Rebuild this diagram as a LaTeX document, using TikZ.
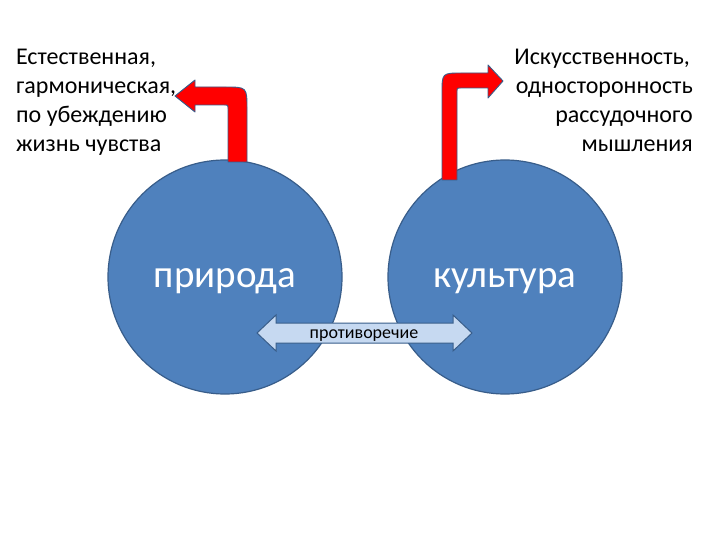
\documentclass[tikz,border=0pt]{standalone}
\usepackage{fontspec}
\setmainfont{Carlito}
\definecolor{circfill}{HTML}{4F81BD}
\definecolor{circline}{HTML}{385D8A}
\definecolor{dafill}{HTML}{C6D9F1}
\tikzset{
  circ/.style={circle, fill=circfill, draw=circline, line width=1.2pt, minimum size=234pt, inner sep=0pt},
  bigtext/.style={font=\fontsize{39}{44}\selectfont, text=white, anchor=base, inner sep=0pt},
  lefttxt/.style={font=\fontsize{24}{29}\selectfont, text=black, inner sep=0pt, anchor=base west},
  righttxt/.style={font=\fontsize{24}{29}\selectfont, text=black, inner sep=0pt, anchor=base east},
  redarrow/.style={fill=red, draw=circline, line width=0.9pt, line join=round},
  dblarrow/.style={fill=dafill, draw=circline, line width=1pt, line join=miter}
}
\begin{document}
\begin{tikzpicture}[x=1pt,y=-1pt]
\useasboundingbox (0,0) rectangle (720,540);
\fill[white] (0,0) rectangle (720,540);
% circles
\node[circ] (nat) at (225,277) {};
\node[circ] (cul) at (505,277) {};
\node[bigtext] (natlab) at (225,287) {природа};
\node[bigtext] (cullab) at (505,287) {культура};
% left bent arrow
\draw[redarrow] (247,162) -- (247,109) .. controls (247,87) .. (225,87) -- (195,87) -- (195,80) -- (175,96) -- (195,112) -- (195,105) -- (224,105) .. controls (228,105) .. (228,109) -- (228,162) -- cycle;
% right bent arrow
\draw[redarrow] (442,180) -- (442,93) .. controls (442,73) .. (462,73) -- (488,73) -- (488,65) -- (503,81) -- (488,98) -- (488,88) -- (461,88) .. controls (457,88) .. (457,92) -- (457,180) -- cycle;
% double arrow
\draw[dblarrow] (257,333) -- (276,315) -- (276,323) -- (453,323) -- (453,315) -- (472,333) -- (453,351) -- (453,343) -- (276,343) -- (276,351) -- cycle;
\node[font=\fontsize{18}{20}\selectfont, inner sep=0pt, anchor=base] (contra) at (364,338) {противоречие};
% side texts
\node[lefttxt] (l1) at (16,65) {Естественная,};
\node[lefttxt] (l2) at (16,94) {гармоническая,};
\node[lefttxt] (l3) at (16,123) {по убеждению};
\node[lefttxt] (l4) at (16,152) {жизнь чувства};
\node[righttxt] (r1) at (690,65) {Искусственность,};
\node[righttxt] (r2) at (693,94) {односторонность};
\node[righttxt] (r3) at (693,123) {рассудочного};
\node[righttxt] (r4) at (693,152) {мышления};
\end{tikzpicture}
\end{document}
